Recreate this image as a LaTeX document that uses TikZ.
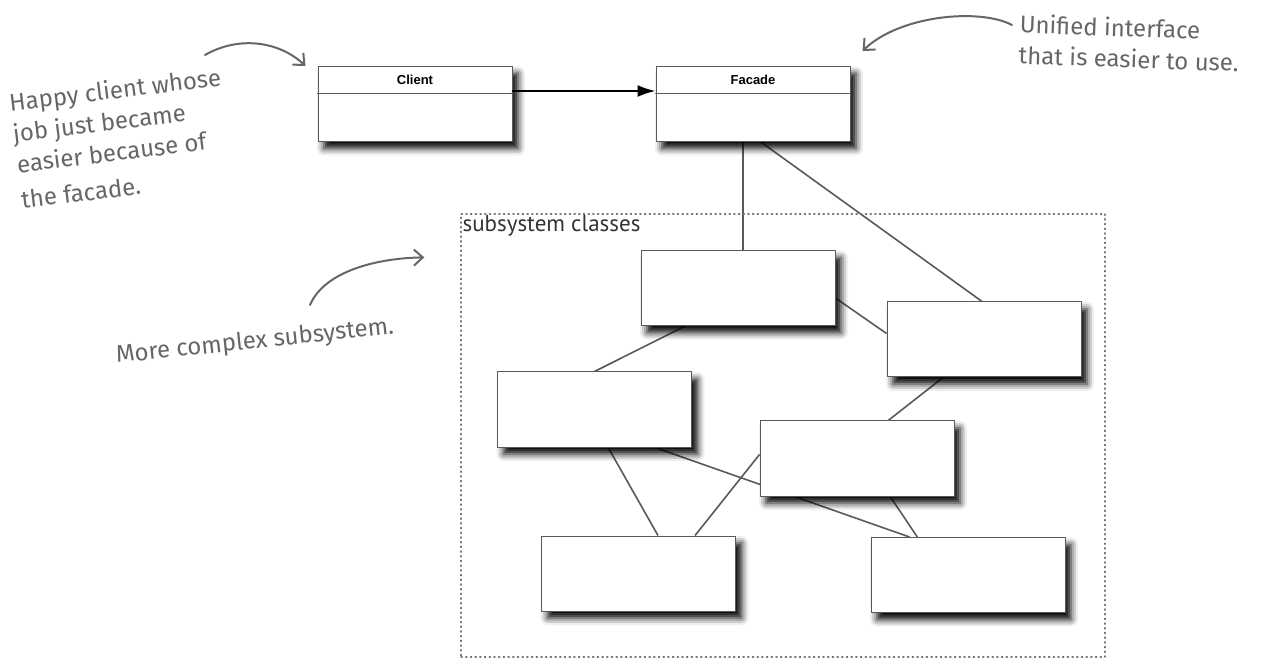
\documentclass[tikz,border=0pt]{standalone}
\usepackage{fontspec}
\newfontfamily\handfont{Fira Sans}
\newfontfamily\umlfont{Liberation Sans}
\newfontfamily\framefont{PT Sans}
\usetikzlibrary{arrows.meta,calc,backgrounds,shadows.blur}

\begin{document}
\begin{tikzpicture}[x=1pt, y=-1pt, line cap=round, line join=round,
  classbox/.style={draw=black!65, line width=1pt, fill=white, minimum width=194pt, minimum height=75pt, inner sep=0pt,
    blur shadow={shadow xshift=6pt, shadow yshift=-7pt, shadow blur radius=7pt, shadow opacity=100}},
  link/.style={draw=black!65, line width=1.6pt},
  note/.style={text=black!60, font=\handfont\fontsize{24}{31}\selectfont, align=left, inner sep=0pt},
  pointer/.style={draw=black!60, line width=2pt, -{Straight Barb[length=9pt, width=16pt]}}]
  \useasboundingbox (0,0) rectangle (1270,660);

  % client and facade
  \node[classbox] (client) at (415,104) {};
  \node[classbox] (facade) at (753,104) {};
  \foreach \cls/\title in {client/Client, facade/Facade} {
    \draw[black!65, line width=1pt] ([yshift=-28pt]\cls.north west) -- ([yshift=-28pt]\cls.north east);
    \node[font=\umlfont\bfseries\fontsize{13}{15}\selectfont] (\cls title) at ([yshift=-14pt]\cls.north) {\title};
  }
  \draw[line width=2pt, -{Latex[length=18pt, width=12pt]}] ([yshift=-25pt]client.north east) -- ([yshift=-25pt]facade.north west);

  % subsystem
  \node[draw=black!55, line width=1.2pt, dash pattern=on 1.2pt off 3.5pt, minimum width=644pt, minimum height=443pt] (subsys) at (783,435.5) {};
  \node[anchor=north west, inner sep=2pt, text=black!80, font=\framefont\fontsize{23}{27}\selectfont] (subsyslabel) at (subsys.north west) {subsystem classes};

  \node[classbox] (A) at (738,288) {};
  \node[classbox] (B) at (984,339.5) {};
  \node[classbox] (C) at (594.5,409.5) {};
  \node[classbox] (D) at (857,458.5) {};
  \node[classbox] (E) at (638.5,573.5) {};
  \node[classbox] (F) at (968,575) {};

  \begin{scope}[on background layer]
    \coordinate (fa) at ($(facade.south west)!0.45!(facade.south east)$);
    \draw[link] (fa) -- (fa |- A.north);
    \draw[link] ($(facade.south west)!0.54!(facade.south east)$) -- ($(B.north west)!0.49!(B.north east)$);
    \draw[link] ([yshift=-10pt]A.east) -- ([yshift=6pt]B.west);
    \draw[link] ($(A.south west)!0.23!(A.south east)$) -- (C.north);
    \draw[link] ($(B.south west)!0.29!(B.south east)$) -- ($(D.north west)!0.66!(D.north east)$);
    \draw[link] ($(C.south west)!0.57!(C.south east)$) -- ($(E.north west)!0.6!(E.north east)$);
    \draw[link] ($(C.south west)!0.81!(C.south east)$) -- ($(F.north west)!0.2!(F.north east)$);
    \draw[link] ([yshift=4pt]D.west) -- ($(E.north west)!0.79!(E.north east)$);
    \draw[link] ($(D.south west)!0.67!(D.south east)$) -- ($(F.north west)!0.24!(F.north east)$);
  \end{scope}

  % notes
  \node[note, rotate=7] (happy) at (121,138) {Happy client whose\\job just became\\easier because of\\[5pt]the facade.};
  \node[note, rotate=-2, anchor=north west] (unified) at (1020,14) {Unified interface\\that is easier to use.};
  \node[note, rotate=6] (complex) at (255,342) {More complex subsystem.};

  \coordinate (p1) at (205,55);
  \coordinate (p2) at (1012,25);
  \coordinate (p3) at (310,305);
  \draw[pointer] (p1) .. controls (240,35) and (280,42) .. ([xshift=-12pt]client.north west);
  \draw[pointer] (p2) .. controls (980,8) and (900,15) .. ([xshift=12pt, yshift=15pt]facade.north east);
  \draw[pointer] (p3) .. controls (325,270) and (380,258) .. ([xshift=-36pt, yshift=-44pt]subsys.north west);
\end{tikzpicture}
\end{document}
